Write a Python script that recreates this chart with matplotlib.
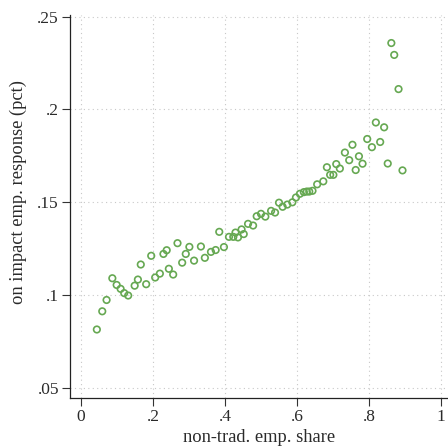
import matplotlib
matplotlib.use("Agg")
import matplotlib.pyplot as plt

# non-traditional employment share (x) vs on-impact employment response (y)
nontrad_share = [
    0.044, 0.059, 0.071, 0.087, 0.099, 0.110, 0.120, 0.131, 0.149, 0.158,
    0.166, 0.181, 0.195, 0.206, 0.219, 0.229, 0.238, 0.244, 0.256, 0.268,
    0.281, 0.291, 0.301, 0.314, 0.333, 0.344, 0.361, 0.374, 0.384, 0.397,
    0.411, 0.423, 0.429, 0.436, 0.446, 0.452, 0.464, 0.478, 0.488, 0.500,
    0.512, 0.528, 0.539, 0.550, 0.560, 0.573, 0.587, 0.597, 0.608, 0.619,
    0.627, 0.634, 0.643, 0.656, 0.673, 0.683, 0.692, 0.701, 0.709, 0.719,
    0.733, 0.745, 0.754, 0.763, 0.772, 0.782, 0.795, 0.808, 0.819, 0.831,
    0.842, 0.852, 0.862, 0.870, 0.882, 0.893,
]
emp_response = [
    0.0815, 0.0913, 0.0974, 0.1091, 0.1055, 0.1034, 0.1011, 0.0998, 0.1051, 0.1084,
    0.1165, 0.1059, 0.1212, 0.1095, 0.1116, 0.1222, 0.1242, 0.1142, 0.1111, 0.1280,
    0.1175, 0.1222, 0.1260, 0.1186, 0.1262, 0.1201, 0.1233, 0.1243, 0.1341, 0.1259,
    0.1314, 0.1314, 0.1337, 0.1311, 0.1354, 0.1329, 0.1384, 0.1375, 0.1425, 0.1438,
    0.1423, 0.1454, 0.1445, 0.1498, 0.1476, 0.1488, 0.1500, 0.1526, 0.1546, 0.1555,
    0.1558, 0.1558, 0.1562, 0.1597, 0.1613, 0.1689, 0.1648, 0.1648, 0.1706, 0.1682,
    0.1768, 0.1727, 0.1810, 0.1674, 0.1748, 0.1708, 0.1841, 0.1797, 0.1930, 0.1825,
    0.1904, 0.1709, 0.2358, 0.2294, 0.2110, 0.1672,
]

x_ticks = [0, 0.2, 0.4, 0.6, 0.8, 1.0]
x_ticklabels = ["0", ".2", ".4", ".6", ".8", "1"]
y_ticks = [0.05, 0.10, 0.15, 0.20, 0.25]
y_ticklabels = [".05", ".1", ".15", ".2", ".25"]

plt.rcParams['font.family'] = ['Liberation Serif', 'DejaVu Serif']
TXT = '#2a2a2a'

fig = plt.figure(figsize=(4.48, 4.48), dpi=100)
ax = fig.add_axes([70 / 448, 1 - 398 / 448, 378 / 448, 383 / 448])

ax.scatter(nontrad_share, emp_response, s=22, facecolors='none',
           edgecolors='#66a852', linewidths=1.2, zorder=3)

ax.set_xlim(-0.0306, 1.0194)
ax.set_ylim(0.0446, 0.2509)

ax.set_xticks(x_ticks)
ax.set_xticklabels(x_ticklabels)
ax.set_yticks(y_ticks)
ax.set_yticklabels(y_ticklabels)
ax.tick_params(direction='out', length=6, width=0.8, color='#333333',
               labelsize=12.5, labelcolor=TXT, pad=2)

ax.grid(True, linestyle=(0, (1, 3)), color='#c8c8c8', linewidth=0.8)
ax.set_axisbelow(True)

for side in ['top', 'right']:
    ax.spines[side].set_visible(False)
for side in ['left', 'bottom']:
    ax.spines[side].set_linewidth(0.9)
    ax.spines[side].set_color('#222222')

ax.set_xlabel("non-trad. emp. share", fontsize=13.3, color=TXT, labelpad=3)
ax.set_ylabel("on impact emp. response (pct)", fontsize=13.3, color=TXT)
ax.yaxis.set_label_coords(-0.113, 0.538)

fig.savefig("out.png", dpi=100, facecolor='white')
